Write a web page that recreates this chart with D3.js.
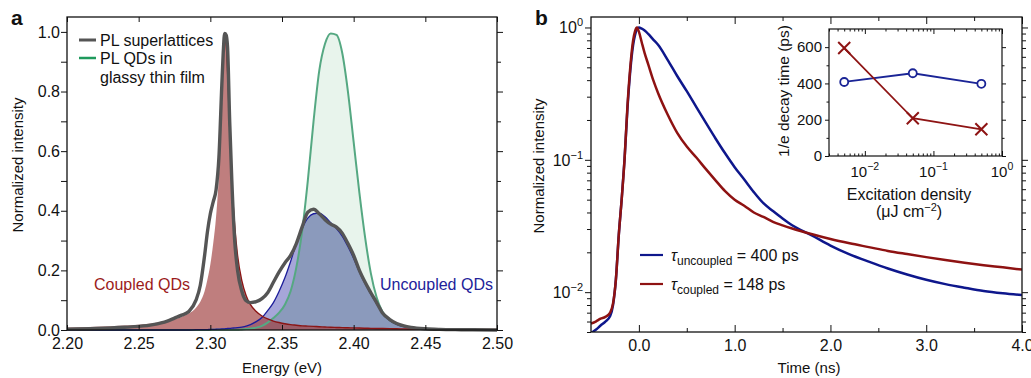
<!DOCTYPE html>
<html><head><meta charset="utf-8">
<script src="https://cdn.jsdelivr.net/npm/d3@7"></script>
<style>body{margin:0;background:#fff}svg{display:block}</style>
</head><body>
<svg id="c" width="1031" height="378"></svg>
<script>
// ---------------- DATA: panel a ----------------
const energy = [2.200,2.220,2.240,2.250,2.260,2.270,2.275,2.280,2.285,2.290,2.293,2.296,2.298,2.300,2.302,2.304,2.306,2.308,2.309,2.310,2.311,2.312,2.3135,2.315,2.317,2.319,2.322,2.325,2.328,2.332,2.336,2.340,2.344,2.348,2.352,2.356,2.360,2.364,2.368,2.372,2.376,2.380,2.384,2.388,2.392,2.396,2.400,2.404,2.408,2.412,2.416,2.420,2.425,2.430,2.435,2.440,2.450,2.460,2.475,2.500];
const superlattice = [0.003,0.005,0.009,0.012,0.018,0.030,0.040,0.050,0.062,0.10,0.15,0.25,0.33,0.39,0.43,0.47,0.58,0.82,0.93,0.995,0.99,0.95,0.70,0.50,0.30,0.20,0.13,0.098,0.092,0.095,0.105,0.125,0.16,0.195,0.225,0.25,0.29,0.345,0.395,0.405,0.39,0.37,0.355,0.345,0.325,0.29,0.25,0.20,0.16,0.125,0.092,0.058,0.036,0.022,0.014,0.009,0.004,0.002,0.001,0.0];
const coupledQD = [0.008,0.011,0.015,0.018,0.023,0.031,0.036,0.044,0.055,0.075,0.095,0.13,0.17,0.22,0.29,0.38,0.52,0.74,0.87,0.975,0.96,0.87,0.68,0.50,0.35,0.25,0.165,0.115,0.085,0.062,0.047,0.037,0.030,0.025,0.021,0.018,0.016,0.014,0.013,0.012,0.011,0.010,0.009,0.0085,0.008,0.0075,0.007,0.0065,0.006,0.0055,0.005,0.0048,0.0045,0.004,0.0037,0.0034,0.003,0.0025,0.002,0.0015];
const glassyFilm = [0,0,0,0,0,0,0,0,0,0,0,0,0,0,0.001,0.001,0.001,0.001,0.001,0.001,0.001,0.001,0.001,0.001,0.001,0.001,0.002,0.003,0.005,0.008,0.014,0.025,0.040,0.058,0.085,0.13,0.21,0.33,0.50,0.70,0.87,0.96,0.995,0.99,0.93,0.80,0.63,0.46,0.31,0.19,0.11,0.062,0.034,0.021,0.013,0.008,0.004,0.002,0.001,0.0];
const uncoupledQD = [0,0,0,0,0,0,0,0,0,0.001,0.001,0.0015,0.0015,0.002,0.002,0.0025,0.003,0.0035,0.004,0.004,0.0045,0.005,0.0055,0.006,0.007,0.008,0.010,0.013,0.018,0.028,0.042,0.065,0.092,0.13,0.175,0.23,0.29,0.34,0.375,0.39,0.392,0.38,0.36,0.34,0.315,0.28,0.24,0.195,0.155,0.12,0.088,0.056,0.033,0.019,0.011,0.007,0.003,0.001,0.0005,0.0];
const energyTicks = [2.20,2.25,2.30,2.35,2.40,2.45,2.50];
const intensityTicks = [0,0.2,0.4,0.6,0.8,1.0];
const intensityMinor = [0.1,0.3,0.5,0.7,0.9];

// ---------------- DATA: panel b ----------------
const time = [-0.50,-0.45,-0.40,-0.35,-0.30,-0.27,-0.24,-0.21,-0.18,-0.15,-0.12,-0.09,-0.06,-0.04,-0.02,0.00,0.03,0.06,0.10,0.15,0.20,0.30,0.40,0.50,0.60,0.70,0.80,0.90,1.00,1.10,1.20,1.30,1.40,1.50,1.60,1.80,2.00,2.20,2.40,2.60,2.80,3.00,3.20,3.40,3.60,3.80,4.00];
const decayUncoupled = [0.0049,0.0052,0.0056,0.0060,0.0066,0.0080,0.0125,0.027,0.050,0.10,0.24,0.47,0.74,0.88,0.97,1.00,0.98,0.95,0.89,0.81,0.74,0.57,0.43,0.33,0.25,0.19,0.145,0.112,0.088,0.071,0.057,0.047,0.041,0.036,0.032,0.027,0.0225,0.0193,0.0170,0.0151,0.0136,0.0124,0.0115,0.0108,0.0102,0.0098,0.0095];
const decayCoupled = [0.0058,0.0060,0.0063,0.0065,0.0070,0.0082,0.0125,0.027,0.050,0.10,0.25,0.50,0.80,0.94,1.00,0.93,0.77,0.64,0.52,0.40,0.32,0.22,0.16,0.126,0.104,0.085,0.070,0.058,0.050,0.045,0.040,0.037,0.034,0.032,0.0303,0.0275,0.0252,0.0234,0.0219,0.0205,0.0194,0.0184,0.0175,0.0167,0.0160,0.0154,0.0148];
const timeTicks = [0,1,2,3,4];
const timeMinor = [0.5,1.5,2.5,3.5];
const logMajor = [1,0.1,0.01];
const logMajorExp = ["0","\u22121","\u22122"];

// ---------------- DATA: inset ----------------
const excitation = [0.005,0.05,0.5];
const tauUncoupled = [408,456,398];
const tauCoupled = [595,208,147];
const insetYTicks = [0,200,400,600];
const insetYMinor = [100,300,500];
const insetXTicks = [0.01,0.1,1];
const insetXExp = ["\u22122","\u22121","0"];

// ---------------- DRAW ----------------
const FONT = "'Liberation Sans', Arial, Helvetica, sans-serif";
const INK = "#111";
const svg = d3.select("#c");
svg.append("rect").attr("width",1031).attr("height",378).attr("fill","#fff");

function styleAxis(g, size){
  g.select(".domain").remove();
  g.attr("font-family", FONT).attr("font-size", size);
  g.selectAll("text").attr("fill", INK);
  g.selectAll("line").attr("stroke", INK).attr("stroke-width", 1);
  return g;
}

// ===== Panel a =====
const xA = d3.scaleLinear().domain([2.2, 2.5]).range([67, 497]);
const yA = d3.scaleLinear().domain([0, 1.05]).range([330, 17]);
const gA = svg.append("g");
const ser = arr => energy.map((e,i)=>({e, v: arr[i]}));
const areaA = d3.area().x(d=>xA(d.e)).y0(yA(0)).y1(d=>yA(d.v)).curve(d3.curveMonotoneX);
const lineA = d3.line().x(d=>xA(d.e)).y(d=>yA(d.v)).curve(d3.curveMonotoneX);
const overlap = energy.map((e,i)=>({e, v: Math.min(glassyFilm[i], uncoupledQD[i])}));

gA.append("path").datum(ser(glassyFilm)).attr("d", areaA).attr("fill", "rgb(110,185,135)").attr("fill-opacity", 0.16);
gA.append("path").datum(ser(uncoupledQD)).attr("d", areaA).attr("fill", "rgb(70,70,175)").attr("fill-opacity", 0.48);
gA.append("path").datum(overlap).attr("d", areaA).attr("fill", "#8a9aba").attr("fill-opacity", 0.95);
gA.append("path").datum(ser(coupledQD)).attr("d", areaA).attr("fill", "rgb(160,65,65)").attr("fill-opacity", 0.68);
gA.append("path").datum(ser(glassyFilm)).attr("d", lineA).attr("fill","none").attr("stroke","#55a882").attr("stroke-width",2);
gA.append("path").datum(ser(uncoupledQD)).attr("d", lineA).attr("fill","none").attr("stroke","#1c1c9a").attr("stroke-width",1.3);
gA.append("path").datum(ser(coupledQD).filter(d=>d.e>=2.3095)).attr("d", lineA).attr("fill","none").attr("stroke","#8b1515").attr("stroke-width",1.4);
gA.append("path").datum(ser(superlattice)).attr("d", lineA).attr("fill","none").attr("stroke","#555").attr("stroke-width",3.4).attr("stroke-linejoin","round");

styleAxis(gA.append("g").attr("transform","translate(0,330)").call(d3.axisBottom(xA).tickValues(energyTicks).tickFormat(d3.format(".2f")).tickSize(-5).tickPadding(8)), 16);
styleAxis(gA.append("g").attr("transform","translate(0,17)").call(d3.axisTop(xA).tickValues(energyTicks).tickFormat("").tickSize(-5)), 16);
styleAxis(gA.append("g").attr("transform","translate(67,0)").call(d3.axisLeft(yA).tickValues(intensityTicks).tickFormat(d3.format(".1f")).tickSize(6).tickPadding(1)), 16);
styleAxis(gA.append("g").attr("transform","translate(67,0)").call(d3.axisLeft(yA).tickValues(intensityMinor).tickFormat("").tickSize(6)), 16);
styleAxis(gA.append("g").attr("transform","translate(497,0)").call(d3.axisRight(yA).tickValues(intensityTicks).tickFormat("").tickSize(6)), 16);
styleAxis(gA.append("g").attr("transform","translate(497,0)").call(d3.axisRight(yA).tickValues(intensityMinor).tickFormat("").tickSize(4)), 16);
gA.append("rect").attr("x",67).attr("y",17).attr("width",430).attr("height",313).attr("fill","none").attr("stroke",INK).attr("stroke-width",1.3);

gA.append("text").attr("x",282).attr("y",373).attr("text-anchor","middle").attr("font-family",FONT).attr("font-size",15).attr("fill",INK).text("Energy (eV)");
gA.append("text").attr("transform","translate(23,165) rotate(-90)").attr("text-anchor","middle").attr("font-family",FONT).attr("font-size",15).attr("fill",INK).text("Normalized intensity");
gA.append("text").attr("x",11).attr("y",25).attr("font-family",FONT).attr("font-weight","bold").attr("font-size",21).attr("fill",INK).text("a");
// legend
gA.append("line").attr("x1",79).attr("x2",96).attr("y1",40).attr("y2",40).attr("stroke","#555").attr("stroke-width",3);
gA.append("line").attr("x1",79).attr("x2",96).attr("y1",58).attr("y2",58).attr("stroke","#1f9a5c").attr("stroke-width",2.5);
const legA = gA.append("g").attr("font-family",FONT).attr("font-size",16).attr("fill",INK);
legA.append("text").attr("x",100).attr("y",45.5).text("PL superlattices");
legA.append("text").attr("x",100).attr("y",64).text("PL QDs in");
legA.append("text").attr("x",100).attr("y",82.5).text("glassy thin film");
gA.append("text").attr("x",94).attr("y",290).attr("font-family",FONT).attr("font-size",16).attr("fill","#9b1b1b").text("Coupled QDs");
gA.append("text").attr("x",380).attr("y",290).attr("font-family",FONT).attr("font-size",16).attr("fill","#22229a").text("Uncoupled QDs");

// ===== Panel b =====
const xB = d3.scaleLinear().domain([-0.5, 4.0]).range([591, 1022]);
const yB = d3.scaleLog().domain([0.005, 1.2]).range([332, 17]);
const gB = svg.append("g");
svg.append("clipPath").attr("id","clipB").append("rect").attr("x",591).attr("y",17).attr("width",431).attr("height",315);
const lineB = d3.line().x(d=>xB(d.t)).y(d=>yB(d.v)).curve(d3.curveMonotoneX);
const plotB = gB.append("g").attr("clip-path","url(#clipB)");
plotB.append("path").datum(time.map((t,i)=>({t, v: decayUncoupled[i]}))).attr("d", lineB).attr("fill","none").attr("stroke","#0e178c").attr("stroke-width",2.5);
plotB.append("path").datum(time.map((t,i)=>({t, v: decayCoupled[i]}))).attr("d", lineB).attr("fill","none").attr("stroke","#8e1212").attr("stroke-width",2.5);

const minorLog = yB.ticks().filter(v => !logMajor.some(m => Math.abs(m - v) < 1e-9));
styleAxis(gB.append("g").attr("transform","translate(0,332)").call(d3.axisBottom(xB).tickValues(timeTicks).tickFormat(d3.format(".1f")).tickSize(-7).tickPadding(8)), 16);
styleAxis(gB.append("g").attr("transform","translate(0,332)").call(d3.axisBottom(xB).tickValues(timeMinor).tickFormat("").tickSize(-4)), 16);
styleAxis(gB.append("g").attr("transform","translate(0,17)").call(d3.axisTop(xB).tickValues(timeTicks).tickFormat("").tickSize(-7)), 16);
styleAxis(gB.append("g").attr("transform","translate(0,17)").call(d3.axisTop(xB).tickValues(timeMinor).tickFormat("").tickSize(-4)), 16);
styleAxis(gB.append("g").attr("transform","translate(591,0)").call(d3.axisLeft(yB).tickValues(logMajor).tickFormat("").tickSize(6)), 16);
styleAxis(gB.append("g").attr("transform","translate(591,0)").call(d3.axisLeft(yB).tickValues(minorLog).tickFormat("").tickSize(4)), 16);
styleAxis(gB.append("g").attr("transform","translate(1022,0)").call(d3.axisRight(yB).tickValues(logMajor).tickFormat("").tickSize(6)), 16);
styleAxis(gB.append("g").attr("transform","translate(1022,0)").call(d3.axisRight(yB).tickValues(minorLog).tickFormat("").tickSize(4)), 16);
gB.append("rect").attr("x",591).attr("y",17).attr("width",431).attr("height",315).attr("fill","none").attr("stroke",INK).attr("stroke-width",1.3);

logMajor.forEach((v,i)=>{
  const t = gB.append("text").attr("x",583).attr("y",yB(v)+6).attr("text-anchor","end").attr("font-family",FONT).attr("font-size",16).attr("fill",INK);
  t.append("tspan").text("10");
  t.append("tspan").attr("dy",-7).attr("font-size",11).text(logMajorExp[i]);
});
gB.append("text").attr("x",809).attr("y",373).attr("text-anchor","middle").attr("font-family",FONT).attr("font-size",15).attr("fill",INK).text("Time (ns)");
gB.append("text").attr("transform","translate(544,166) rotate(-90)").attr("text-anchor","middle").attr("font-family",FONT).attr("font-size",15).attr("fill",INK).text("Normalized intensity");
gB.append("text").attr("x",535).attr("y",25).attr("font-family",FONT).attr("font-weight","bold").attr("font-size",21).attr("fill",INK).text("b");

// legend b
const legB = [{c:"#0e178c", sub:"uncoupled", val:" = 400 ps", y:255},{c:"#8e1212", sub:"coupled", val:" = 148 ps", y:284}];
legB.forEach(d=>{
  gB.append("line").attr("x1",640).attr("x2",663).attr("y1",d.y).attr("y2",d.y).attr("stroke",d.c).attr("stroke-width",2.2);
  const t = gB.append("text").attr("x",671).attr("y",d.y+6).attr("font-family",FONT).attr("font-size",16).attr("fill",INK);
  t.append("tspan").attr("font-style","italic").text("\u03c4");
  t.append("tspan").attr("dy",4).attr("font-size",12).text(d.sub);
  t.append("tspan").attr("dy",-4).text(d.val);
});

// ===== Inset =====
const xI = d3.scaleLog().domain([0.003, 1]).range([829, 1002]);
const yI = d3.scaleLinear().domain([0, 700]).range([156, 29]);
const gI = svg.append("g");
gI.append("rect").attr("x",829).attr("y",29).attr("width",173).attr("height",127).attr("fill","#fff");
const minorI = xI.ticks().filter(v => !insetXTicks.some(m => Math.abs(m - v) < 1e-9));
styleAxis(gI.append("g").attr("transform","translate(0,156)").call(d3.axisBottom(xI).tickValues(insetXTicks).tickFormat("").tickSize(-5)), 15);
styleAxis(gI.append("g").attr("transform","translate(0,156)").call(d3.axisBottom(xI).tickValues(minorI).tickFormat("").tickSize(-2.5)), 15);
styleAxis(gI.append("g").attr("transform","translate(0,29)").call(d3.axisTop(xI).tickValues(insetXTicks).tickFormat("").tickSize(-5)), 15);
styleAxis(gI.append("g").attr("transform","translate(0,29)").call(d3.axisTop(xI).tickValues(minorI).tickFormat("").tickSize(-2.5)), 15);
styleAxis(gI.append("g").attr("transform","translate(829,0)").call(d3.axisLeft(yI).tickValues(insetYTicks).tickFormat(d3.format("d")).tickSize(4).tickPadding(3)), 15);
styleAxis(gI.append("g").attr("transform","translate(829,0)").call(d3.axisLeft(yI).tickValues(insetYMinor).tickFormat("").tickSize(2.5)), 15);
styleAxis(gI.append("g").attr("transform","translate(1002,0)").call(d3.axisRight(yI).tickValues(insetYTicks).tickFormat("").tickSize(4)), 15);
styleAxis(gI.append("g").attr("transform","translate(1002,0)").call(d3.axisRight(yI).tickValues(insetYMinor).tickFormat("").tickSize(2.5)), 15);
gI.append("rect").attr("x",829).attr("y",29).attr("width",173).attr("height",127).attr("fill","none").attr("stroke",INK).attr("stroke-width",1.2);

insetXTicks.forEach((v,i)=>{
  const t = gI.append("text").attr("x",xI(v)).attr("y",177).attr("text-anchor","middle").attr("font-family",FONT).attr("font-size",15).attr("fill",INK);
  t.append("tspan").text("10");
  t.append("tspan").attr("dy",-7).attr("font-size",10.5).text(insetXExp[i]);
});
const lineI = d3.line().x(d=>xI(d.x)).y(d=>yI(d.y));
const uData = excitation.map((x,i)=>({x, y: tauUncoupled[i]}));
const cData = excitation.map((x,i)=>({x, y: tauCoupled[i]}));
gI.append("path").datum(uData).attr("d", lineI).attr("fill","none").attr("stroke","#1a2496").attr("stroke-width",1.8);
gI.append("path").datum(cData).attr("d", lineI).attr("fill","none").attr("stroke","#8e1414").attr("stroke-width",1.8);
gI.selectAll("circle.u").data(uData).join("circle").attr("cx",d=>xI(d.x)).attr("cy",d=>yI(d.y)).attr("r",4).attr("fill","#fff").attr("stroke","#1a2496").attr("stroke-width",1.8);
gI.selectAll("path.x").data(cData).join("path").attr("d",d=>{const x=xI(d.x), y=yI(d.y), s=6; return `M${x-s},${y-s}L${x+s},${y+s}M${x-s},${y+s}L${x+s},${y-s}`;}).attr("stroke","#8e1414").attr("stroke-width",2).attr("fill","none");

gI.append("text").attr("transform","translate(789,91) rotate(-90)").attr("text-anchor","middle").attr("font-family",FONT).attr("font-size",15.5).attr("fill",INK).text("1/e decay time (ps)");
gI.append("text").attr("x",909).attr("y",200).attr("text-anchor","middle").attr("font-family",FONT).attr("font-size",16).attr("fill",INK).text("Excitation density");
const unitT = gI.append("text").attr("x",909).attr("y",217).attr("text-anchor","middle").attr("font-family",FONT).attr("font-size",16).attr("fill",INK);
unitT.append("tspan").text("(\u03bcJ cm");
unitT.append("tspan").attr("dy",-6).attr("font-size",11).text("\u22122");
unitT.append("tspan").attr("dy",6).text(")");
</script>
</body></html>
